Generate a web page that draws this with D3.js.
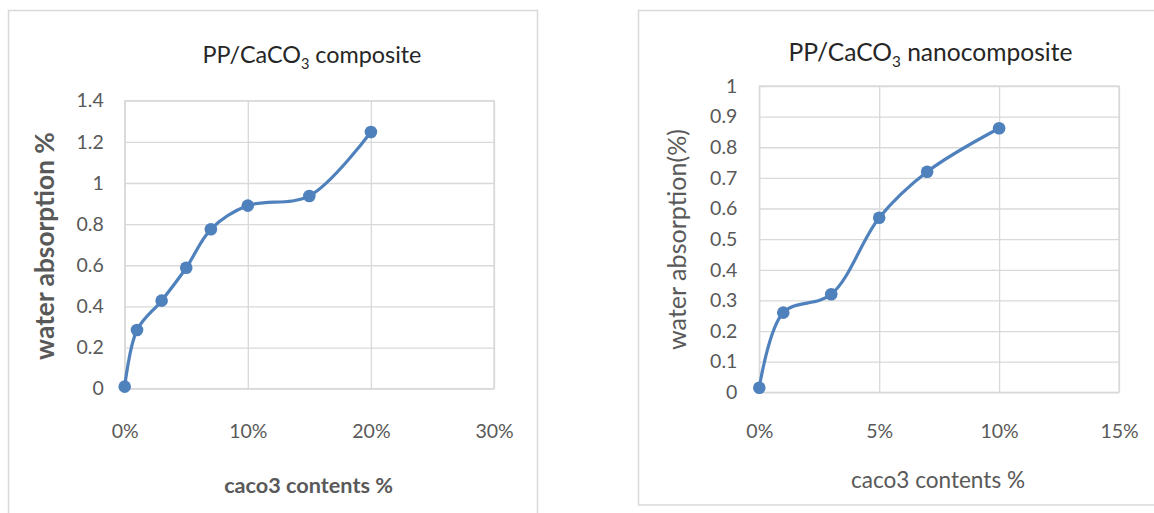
<!DOCTYPE html>
<html>
<head>
<meta charset="utf-8">
<script src="https://cdn.jsdelivr.net/npm/d3@7"></script>
<style>
  html, body { margin: 0; padding: 0; background: #ffffff; }
  svg { display: block; }
</style>
</head>
<body>
<svg id="chart" width="1154" height="513"></svg>
<script>
// ---------- data ----------
const compositeContent = [0, 0.01, 0.03, 0.05, 0.07, 0.10, 0.15, 0.20];
const compositeAbsorption = [0.01, 0.285, 0.428, 0.588, 0.775, 0.89, 0.937, 1.248];
const compositeXTicks = [0, 0.10, 0.20, 0.30];
const compositeYTicks = [0, 0.2, 0.4, 0.6, 0.8, 1.0, 1.2, 1.4];
const compositeYLabels = ["0", "0.2", "0.4", "0.6", "0.8", "1", "1.2", "1.4"];

const nanoContent = [0, 0.01, 0.03, 0.05, 0.07, 0.10];
const nanoAbsorption = [0.015, 0.26, 0.32, 0.57, 0.72, 0.862];
const nanoXTicks = [0, 0.05, 0.10, 0.15];
const nanoYTicks = [0, 0.1, 0.2, 0.3, 0.4, 0.5, 0.6, 0.7, 0.8, 0.9, 1.0];
const nanoYLabels = ["0", "0.1", "0.2", "0.3", "0.4", "0.5", "0.6", "0.7", "0.8", "0.9", "1"];

const xAxisTitle = "caco3 contents %";
const compositeYTitle = "water absorption %";
const nanoYTitle = "water absorption(%)";
const titlePrefix = "PP/CaCO";
const titleSub = "3";
const compositeTitleSuffix = " composite";
const nanoTitleSuffix = " nanocomposite";

// ---------- drawing ----------
const svg = d3.select("#chart");
const LINE = "#4f81bd";
const GRID = "#d9d9d9";
const TEXT = "#595959";
const SANS = "Lato, 'Open Sans', sans-serif";

function fitWidth(sel, target) {
  const node = sel.node();
  const fs = parseFloat(sel.attr("font-size"));
  const w = node.getComputedTextLength();
  if (w > 0) sel.attr("font-size", (fs * target / w).toFixed(2));
}

function drawChart(o) {
  const g = svg.append("g");
  // outer frame
  g.append("rect")
    .attr("x", o.frame[0]).attr("y", o.frame[1])
    .attr("width", o.frame[2]).attr("height", o.frame[3])
    .attr("fill", "#fff").attr("stroke", GRID).attr("stroke-width", 1.5);

  const x = d3.scaleLinear().domain(o.xDomain).range([o.plot[0], o.plot[1]]);
  const y = d3.scaleLinear().domain(o.yDomain).range([o.plot[3], o.plot[2]]);

  // horizontal gridlines
  const yAxis = d3.axisLeft(y).tickValues(o.yTicks)
    .tickSize(-(o.plot[1] - o.plot[0])).tickPadding(10)
    .tickFormat((d, i) => o.yLabels[i]);
  const ya = g.append("g").attr("transform", `translate(${o.plot[0]},0)`).call(yAxis);
  ya.select(".domain").remove();
  ya.selectAll(".tick line").attr("stroke", GRID).attr("stroke-width", 1.3);
  ya.selectAll(".tick text").attr("fill", TEXT).attr("font-family", SANS)
    .attr("font-size", o.tickFont).attr("dx", o.yLabelDx);

  // vertical gridlines
  const xAxis = d3.axisBottom(x).tickValues(o.xTicks)
    .tickSize(-(o.plot[3] - o.plot[2])).tickPadding(0)
    .tickFormat(d3.format(".0%"));
  const xa = g.append("g").attr("transform", `translate(0,${o.plot[3]})`).call(xAxis);
  xa.select(".domain").remove();
  xa.selectAll(".tick line").attr("stroke", GRID).attr("stroke-width", 1.3);
  xa.selectAll(".tick text").attr("fill", TEXT).attr("font-family", SANS)
    .attr("font-size", o.tickFont).attr("y", o.xLabelY - o.plot[3]).attr("dy", 0);

  // plot border
  g.append("rect")
    .attr("x", o.plot[0]).attr("y", o.plot[2])
    .attr("width", o.plot[1] - o.plot[0]).attr("height", o.plot[3] - o.plot[2])
    .attr("fill", "none").attr("stroke", GRID).attr("stroke-width", 1.3);

  // series
  const pts = o.xs.map((v, i) => [v, o.ys[i]]);
  const line = d3.line().x(d => x(d[0])).y(d => y(d[1]))
    .curve(d3.curveCatmullRom.alpha(0.5));
  g.append("path").datum(pts).attr("d", line)
    .attr("fill", "none").attr("stroke", LINE).attr("stroke-width", 3.2)
    .attr("stroke-linejoin", "round").attr("stroke-linecap", "round");
  g.selectAll("circle.pt").data(pts).enter().append("circle")
    .attr("class", "pt")
    .attr("cx", d => x(d[0])).attr("cy", d => y(d[1])).attr("r", 6.3)
    .attr("fill", LINE);

  // title
  const t = g.append("text")
    .attr("x", o.title[0]).attr("y", o.title[1])
    .attr("text-anchor", "middle").attr("font-family", SANS)
    .attr("font-size", 24).attr("fill", "#262626");
  t.append("tspan").text(titlePrefix);
  t.append("tspan").text(titleSub).attr("font-size", "0.62em").attr("dy", 6);
  t.append("tspan").text(o.titleSuffix).attr("dy", -6);
  fitWidth(t, o.title[2]);

  // x axis title
  const xt = g.append("text")
    .attr("x", o.xTitle[0]).attr("y", o.xTitle[1])
    .attr("text-anchor", "middle").attr("font-family", SANS)
    .attr("font-weight", o.bold ? "bold" : "normal")
    .attr("font-size", 20).attr("fill", TEXT).text(xAxisTitle);
  fitWidth(xt, o.xTitle[2]);

  // y axis title
  const yt = g.append("text")
    .attr("transform", `translate(${o.yTitle[0]},${o.yTitle[1]}) rotate(-90)`)
    .attr("text-anchor", "middle").attr("font-family", SANS)
    .attr("font-weight", o.bold ? "bold" : "normal")
    .attr("font-size", 20).attr("fill", TEXT).text(o.yTitleText);
  fitWidth(yt, o.yTitle[2]);
}

drawChart({
  frame: [8.5, 10.5, 529, 520],
  plot: [124.7, 494, 100.7, 388.7],
  xDomain: [0, 0.30], yDomain: [0, 1.4],
  xTicks: compositeXTicks, yTicks: compositeYTicks, yLabels: compositeYLabels,
  xs: compositeContent, ys: compositeAbsorption,
  tickFont: 19.5, yLabelDx: -11, xLabelY: 438,
  title: [312, 63, 219], titleSuffix: compositeTitleSuffix,
  xTitle: [308.6, 493, 169], yTitle: [54, 246, 228], yTitleText: compositeYTitle,
  bold: true
});

drawChart({
  frame: [638.5, 10.5, 530, 494.5],
  plot: [759.3, 1119, 86, 392.3],
  xDomain: [0, 0.15], yDomain: [0, 1.0],
  xTicks: nanoXTicks, yTicks: nanoYTicks, yLabels: nanoYLabels,
  xs: nanoContent, ys: nanoAbsorption,
  tickFont: 19.5, yLabelDx: -12, xLabelY: 438,
  title: [930.5, 60.5, 284], titleSuffix: nanoTitleSuffix,
  xTitle: [938, 488, 174], yTitle: [686, 239.5, 221], yTitleText: nanoYTitle,
  bold: false
});
</script>
</body>
</html>
